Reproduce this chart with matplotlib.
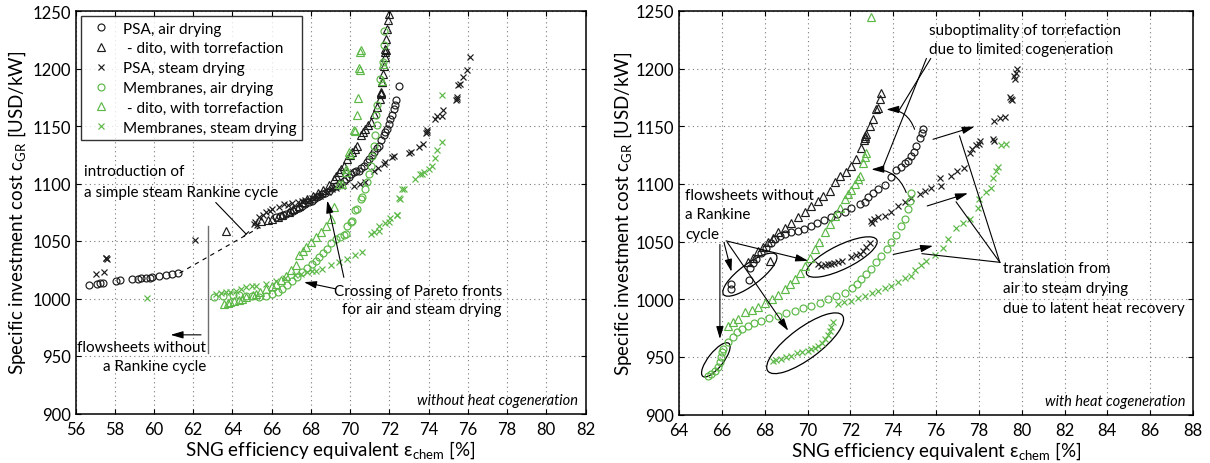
import matplotlib
matplotlib.use("Agg")
import matplotlib.pyplot as plt
from matplotlib.patches import Ellipse
from matplotlib import transforms

plt.rcParams['font.family'] = ['Lato', 'DejaVu Sans']
plt.rcParams['mathtext.fontset'] = 'custom'
plt.rcParams['mathtext.rm'] = 'Lato'
plt.rcParams['mathtext.it'] = 'Lato:italic'

BLACK = '#1c1c1c'
GREEN = '#5cb847'

# ---------------- left panel: without heat cogeneration ----------------
L_psa_air_x = [56.70, 57.08, 57.24, 57.38, 58.06, 58.26, 58.90, 59.19, 59.36, 59.58, 59.78, 59.92,
               60.25, 60.59, 60.93, 61.22,
               66.21, 66.45, 66.60, 66.72, 66.95, 67.10, 67.23, 67.40, 67.55, 67.70, 67.90, 68.05,
               68.15, 68.30, 68.41, 68.55, 68.70, 68.92, 69.10, 69.26, 69.50, 69.68, 69.80, 69.93,
               70.02, 70.19, 70.30, 70.44, 70.55, 70.70, 70.85, 70.95, 71.10, 71.20, 71.35, 71.46,
               71.60, 71.71, 71.80, 71.88, 71.97, 72.05, 72.12, 72.22, 72.28, 72.34, 72.51]
L_psa_air_y = [1011.7, 1012.9, 1013.2, 1013.7, 1015.2, 1015.8, 1016.6, 1017.2, 1017.5, 1017.8, 1018.1, 1018.7,
               1019.6, 1020.2, 1021.1, 1021.9,
               1070.7, 1071.8, 1072.5, 1073.6, 1075.0, 1076.5, 1078.0, 1079.0, 1080.5, 1082.0, 1083.8, 1085.0,
               1086.5, 1088.0, 1089.5, 1090.5, 1091.5, 1093.9, 1096.0, 1098.2, 1100.5, 1102.6, 1104.0, 1106.0,
               1108.4, 1110.0, 1110.5, 1111.3, 1113.5, 1115.6, 1118.5, 1121.5, 1124.5, 1127.3, 1130.5, 1133.0,
               1137.5, 1141.8, 1144.5, 1147.6, 1152.0, 1156.0, 1160.0, 1165.0, 1168.5, 1172.2, 1184.4]

L_psa_tor_x = [63.68, 65.45, 65.80, 66.04, 66.30, 66.55, 66.90, 67.10, 67.40, 67.60, 67.82, 68.10,
               68.35, 68.60, 68.90, 69.17, 69.30, 69.43, 69.55, 69.68, 69.85, 70.00, 70.10, 70.25,
               70.36, 70.53, 70.65, 70.78, 70.90, 71.04, 71.20, 71.37, 71.54, 71.59, 71.58, 71.60,
               71.62, 71.64, 71.66, 71.71, 71.76, 71.78, 71.80, 71.82, 71.83, 71.88, 71.93, 71.96]
L_psa_tor_y = [1058.7, 1067.8, 1068.5, 1069.3, 1070.5, 1072.2, 1075.0, 1077.5, 1080.8, 1083.5, 1086.7, 1089.0,
               1091.5, 1094.0, 1098.5, 1104.0, 1106.5, 1110.0, 1113.0, 1115.6, 1121.5, 1124.5, 1127.3, 1130.0,
               1133.0, 1141.8, 1144.5, 1147.6, 1150.5, 1153.4, 1160.7, 1166.5, 1173.7, 1178.0, 1179.0, 1180.0,
               1188.2, 1188.0, 1195.4, 1202.6, 1210.0, 1214.0, 1217.2, 1216.0, 1226.0, 1234.6, 1241.8, 1247.6]

L_psa_steam_x = [57.04, 57.45, 57.58, 57.62, 57.55, 62.07,
                 65.11, 65.15, 65.25, 65.37, 65.55, 65.71, 65.90, 66.04, 66.35, 66.64, 66.85, 67.06,
                 67.35, 67.55, 67.70, 67.90, 68.07, 68.30, 68.45, 68.58, 68.85, 69.09, 69.30, 69.59,
                 70.19, 70.50, 70.78, 71.20, 71.40, 71.71, 71.80, 72.13, 72.22, 72.98, 73.10, 73.49,
                 73.74, 73.91, 73.93, 73.88, 74.34, 74.42, 74.67, 74.76, 75.43, 75.45, 75.40, 75.52,
                 75.60, 75.77, 75.94, 76.11]
L_psa_steam_y = [1021.5, 1023.2, 1034.8, 1034.0, 1035.2, 1050.5,
                 1064.5, 1066.4, 1063.5, 1070.7, 1073.0, 1075.0, 1076.0, 1077.9, 1079.5, 1082.3, 1081.0, 1083.2,
                 1084.0, 1084.5, 1085.5, 1086.0, 1087.1, 1089.0, 1089.5, 1091.0, 1093.0, 1095.3, 1096.0, 1098.2,
                 1098.2, 1099.5, 1101.2, 1111.3, 1113.5, 1117.1, 1119.1, 1122.9, 1123.8, 1126.7, 1127.5, 1131.6,
                 1134.5, 1144.7, 1146.1, 1143.5, 1156.3, 1159.1, 1159.1, 1163.5, 1173.7, 1175.0, 1172.5, 1185.9,
                 1186.7, 1192.6, 1198.3, 1210.0]

L_mem_air_x = [63.08, 63.50, 64.01, 64.35, 64.69, 65.00, 65.37, 65.70, 66.04, 66.30, 66.55, 66.80,
               67.06, 67.30, 67.56, 67.80, 68.07, 68.25, 68.41, 68.60, 68.83, 69.05, 69.26, 69.50,
               69.68, 69.77, 69.85, 70.02, 70.10, 70.27, 70.36, 70.53, 70.61, 70.75, 70.86, 70.95,
               71.04, 71.12, 71.20, 71.29, 71.37, 71.32, 71.37, 71.54, 71.66, 71.71, 71.71]
L_mem_air_y = [1001.1, 1002.0, 1003.1, 1003.0, 1002.5, 1002.0, 1001.1, 1002.5, 1004.0, 1006.0, 1008.4, 1012.0,
               1015.6, 1019.0, 1023.0, 1026.5, 1030.1, 1033.0, 1036.0, 1040.0, 1043.2, 1048.0, 1052.0, 1053.5,
               1054.8, 1056.0, 1063.4, 1066.5, 1067.8, 1076.6, 1078.0, 1086.7, 1088.2, 1095.0, 1101.2, 1108.0,
               1115.6, 1124.3, 1133.0, 1141.8, 1150.5, 1159.2, 1167.9, 1191.1, 1205.6, 1220.1, 1232.3]

L_mem_tor_x = [63.59, 63.75, 63.90, 64.10, 64.35, 64.50, 64.70, 65.03, 65.20, 65.40, 65.71, 66.00,
               66.21, 66.50, 66.72, 67.00, 67.23, 67.40, 67.60, 67.74, 68.00, 68.24, 68.50, 68.75,
               69.00, 69.20, 69.43, 69.59, 69.77, 69.77, 69.94, 69.97, 70.19, 70.24, 70.36, 70.41,
               70.48, 70.46, 70.53, 70.50, 71.62, 71.66]
L_mem_tor_y = [995.3, 996.0, 997.0, 998.0, 999.0, 1000.0, 1001.0, 1003.0, 1004.0, 1006.0, 1008.4, 1011.0,
               1012.8, 1016.5, 1020.0, 1024.5, 1028.7, 1037.4, 1041.0, 1044.7, 1049.0, 1053.3, 1058.0, 1063.4,
               1069.3, 1080.0, 1099.8, 1099.8, 1110.0, 1112.8, 1127.3, 1126.0, 1146.1, 1146.0, 1159.7, 1174.3,
               1198.9, 1200.5, 1215.7, 1214.5, 1189.0, 1204.0]

L_mem_steam_x = [59.65, 63.17, 63.40, 63.68, 63.90, 64.18, 64.45, 64.69, 65.00, 65.20, 65.70, 66.20,
                 66.70, 67.20, 67.50, 67.82, 68.05, 68.24, 68.58, 69.00, 69.43, 69.85, 70.27, 70.61,
                 71.04, 71.20, 71.46, 71.46, 71.80, 71.97, 72.05, 72.39, 72.39, 72.47, 72.56, 72.64,
                 72.73, 73.32, 73.57, 73.66, 73.75, 74.00, 74.16, 74.34, 74.42, 74.67, 74.67]
L_mem_steam_y = [1000.3, 1004.0, 1005.0, 1005.5, 1006.0, 1006.9, 1008.0, 1009.8, 1010.5, 1011.3, 1013.0, 1015.0,
                 1018.0, 1020.5, 1021.5, 1023.0, 1023.5, 1024.3, 1025.7, 1028.7, 1031.6, 1034.5, 1037.4, 1040.3,
                 1056.2, 1057.5, 1059.0, 1063.4, 1065.7, 1066.3, 1069.8, 1072.2, 1072.8, 1087.3, 1086.7, 1095.4,
                 1095.4, 1104.0, 1108.4, 1108.4, 1110.0, 1112.8, 1115.1, 1122.0, 1128.7, 1136.0, 1176.6]

# ---------------- right panel: with heat cogeneration ----------------
R_psa_air_x = [66.42, 66.42, 67.26,
               67.31, 67.45, 67.60, 67.85, 68.05, 68.30, 68.48, 68.70, 68.94, 69.25, 69.55, 69.85,
               70.15, 70.45, 70.75, 71.11, 71.40, 71.74, 72.05, 72.44, 72.67, 72.83, 73.05, 73.29,
               73.60, 73.91, 74.14, 74.35, 74.54, 74.70, 74.84, 74.95, 75.08, 75.24, 75.33, 75.39]
R_psa_air_y = [1013.0, 1008.8, 1016.8,
               1027.5, 1031.0, 1035.0, 1040.0, 1044.5, 1048.5, 1052.1, 1054.5, 1056.4, 1057.9, 1059.5, 1061.0,
               1063.5, 1066.0, 1068.5, 1071.5, 1074.0, 1075.5, 1079.0, 1083.0, 1084.5, 1089.0, 1092.0, 1096.0,
               1099.0, 1106.0, 1112.0, 1115.0, 1118.0, 1120.0, 1124.0, 1128.0, 1133.0, 1139.8, 1144.0, 1147.4]

R_psa_tor_x = [68.24, 67.23, 67.45, 67.70, 67.90, 68.16, 68.40, 68.63, 68.95, 69.25, 69.56, 69.87,
               70.18, 70.49, 70.73, 71.04, 71.27, 71.50, 71.82, 72.05, 72.28, 72.51, 72.62, 72.67,
               72.70, 72.75, 72.90, 73.06, 73.21, 73.30, 73.37, 73.45]
R_psa_tor_y = [1033.3, 1031.9, 1036.0, 1041.9, 1045.5, 1049.2, 1053.5, 1057.9, 1062.0, 1066.5, 1071.0, 1075.5,
               1080.9, 1085.0, 1089.6, 1094.0, 1102.0, 1107.0, 1110.0, 1115.6, 1121.4, 1131.5, 1138.5, 1140.2,
               1141.5, 1143.0, 1150.3, 1156.0, 1164.7, 1166.0, 1173.4, 1179.2]

R_psa_steam_x = [70.49, 70.65, 70.80, 70.95, 71.11, 71.25, 71.43, 71.60, 72.05, 72.25, 72.44, 72.60,
                 72.75, 72.90,
                 72.98, 73.03, 73.12, 73.30, 73.60, 73.90, 74.22, 74.53, 74.85, 75.23, 75.50, 75.76,
                 76.24, 76.20, 76.71, 77.00, 77.33, 77.57, 77.70, 77.87, 78.00, 78.05, 78.65, 78.70,
                 78.73, 79.00, 79.20, 79.50, 79.45, 79.55, 79.66, 79.74, 79.70, 79.78]
R_psa_steam_y = [1030.4, 1029.0, 1029.5, 1030.5, 1030.4, 1031.0, 1031.9, 1033.0, 1036.2, 1038.0, 1039.0, 1042.0,
                 1044.9, 1048.5,
                 1068.0, 1066.5, 1069.2, 1071.0, 1072.3, 1076.0, 1081.0, 1084.0, 1087.5, 1090.9, 1093.5, 1096.7,
                 1098.3, 1105.4, 1107.0, 1111.0, 1114.2, 1127.2, 1130.0, 1133.5, 1135.0, 1137.0, 1138.7, 1137.5,
                 1154.6, 1157.0, 1158.4, 1174.0, 1175.5, 1173.0, 1193.6, 1196.5, 1191.0, 1199.4]

R_mem_air_x = [65.37, 65.50, 65.68, 65.80, 65.91, 65.95, 65.99, 66.05,
               66.30, 66.50, 66.69, 66.95, 67.23, 67.50, 67.85, 68.20, 68.63, 69.00, 69.41, 69.80,
               70.18, 70.60, 70.96, 71.35, 71.74, 72.10, 72.30, 72.51, 72.75, 72.98, 73.20, 73.45,
               73.70, 73.91, 74.15, 74.38, 74.55, 74.69, 74.78, 74.84]
R_mem_air_y = [933.6, 935.0, 937.9, 941.0, 945.2, 950.0, 953.9, 957.0,
               962.6, 967.0, 971.2, 974.5, 977.0, 979.0, 981.3, 983.5, 985.6, 988.0, 990.0, 992.0,
               994.3, 997.0, 1000.0, 1003.0, 1005.8, 1010.0, 1013.5, 1017.3, 1021.5, 1026.0, 1032.0, 1037.6,
               1043.5, 1049.2, 1056.0, 1063.6, 1070.0, 1078.0, 1085.0, 1092.5]

R_mem_tor_x = [66.30, 66.50, 66.76, 67.08, 67.40, 67.70, 68.00, 68.32, 68.60, 68.94, 69.20, 69.41,
               69.65, 69.87, 70.10, 70.34, 70.55, 70.80, 71.05, 71.27, 71.50, 71.74, 71.89, 72.05,
               72.20, 72.36, 72.44, 72.59, 72.68, 72.75, 72.98]
R_mem_tor_y = [977.1, 980.0, 982.8, 988.6, 991.0, 993.1, 996.5, 1000.1, 1004.0, 1008.8, 1013.0, 1017.5,
               1023.0, 1029.0, 1036.0, 1043.5, 1050.0, 1058.0, 1065.0, 1072.3, 1079.0, 1086.7, 1091.0, 1095.0,
               1100.0, 1104.0, 1107.0, 1118.5, 1123.0, 1127.2, 1245.0]

R_mem_steam_x = [68.40, 68.55, 68.78, 69.00, 69.25, 69.50, 69.72, 70.00, 70.18, 70.35, 70.49, 70.66,
                 70.80, 70.95, 71.04, 71.12, 71.19,
                 71.43, 71.71, 72.05, 72.35, 72.67, 73.00, 73.29, 73.60, 73.91, 74.22, 74.54, 74.84,
                 75.00, 75.30, 75.54, 75.93, 76.32, 76.55, 76.94, 77.25, 77.57, 77.95, 78.03, 78.34,
                 78.57, 78.65, 78.81, 78.90, 79.04, 79.27]
R_mem_steam_y = [946.6, 947.0, 948.1, 949.5, 951.0, 953.0, 954.5, 955.5, 956.7, 958.0, 959.6, 962.0,
                 965.4, 969.0, 972.6, 976.0, 979.9,
                 995.6, 997.5, 998.6, 1001.0, 1002.9, 1005.0, 1007.2, 1009.5, 1011.6, 1015.0, 1018.5, 1020.0,
                 1025.0, 1030.0, 1033.5, 1038.0, 1044.0, 1052.0, 1062.0, 1066.0, 1069.4, 1079.5, 1087.0, 1093.0,
                 1096.5, 1105.0, 1110.8, 1115.0, 1133.5, 1134.4]

series_labels = ['PSA, air drying', ' - dito, with torrefaction', 'PSA, steam drying',
                 'Membranes, air drying', ' - dito, with torrefaction', 'Membranes, steam drying']

fig = plt.figure(figsize=(12.10, 4.64), dpi=100)
W, H = 1210.0, 464.0
axL = fig.add_axes([75.5 / W, (H - 414.5) / H, 510.0 / W, 402.5 / H])
axR = fig.add_axes([679.0 / W, (H - 415.5) / H, 514.0 / W, 403.5 / H])

AX_FS = 13.5
TICK_FS = 12
ANN_FS = 11


def style_axes(ax, xlo, xhi):
    ax.set_xlim(xlo, xhi)
    ax.set_ylim(900, 1250)
    ax.set_xticks(range(xlo, xhi + 1, 2))
    ax.set_yticks(range(900, 1251, 50))
    ax.grid(True, linestyle=(0, (1, 3)), color='#7a7a7a', lw=0.8)
    ax.set_axisbelow(True)
    ax.tick_params(direction='in', top=True, right=True, length=3.5, width=0.8,
                   labelsize=TICK_FS)
    ax.tick_params(axis='x', pad=5.5)
    ax.tick_params(axis='y', pad=3.5)
    for s in ax.spines.values():
        s.set_linewidth(1.1)
    ax.set_xlabel('SNG efficiency equivalent ε$_{\\mathrm{chem}}$ [%]', fontsize=AX_FS)
    ax.set_ylabel('Specific investment cost c$_{\\mathrm{GR}}$ [USD/kW]', fontsize=AX_FS)
    ax.xaxis.set_label_coords(0.5, -0.062)


def scatter_set(ax, data, with_labels=False):
    styles = [('o', BLACK, 5.0), ('^', BLACK, 5.6), ('x', BLACK, 5.0),
              ('o', GREEN, 5.0), ('^', GREEN, 5.6), ('x', GREEN, 5.0)]
    for (xs, ys), (m, c, ms), lab in zip(data, styles, series_labels):
        ax.plot(xs, ys, linestyle='none', marker=m, mfc='none', mec=c, ms=ms, mew=0.85,
                label=lab if with_labels else None)


def arrow(ax, start, end, rad=0.0):
    ax.annotate('', xy=end, xytext=start,
                arrowprops=dict(arrowstyle='-|>,head_length=0.75,head_width=0.22', lw=0.8,
                                color='black', shrinkA=0, shrinkB=0, mutation_scale=10,
                                connectionstyle='arc3,rad=%g' % rad))


def line(ax, xs, ys, **kw):
    kw.setdefault('color', 'black')
    kw.setdefault('lw', 0.8)
    ax.plot(xs, ys, **kw)


def ellipse(ax, x, y, w_px, h_px, angle):
    tr = fig.dpi_scale_trans + transforms.ScaledTranslation(x, y, ax.transData)
    ax.add_patch(Ellipse((0, 0), w_px / fig.dpi, h_px / fig.dpi, angle=angle,
                         transform=tr, fill=False, ec='black', lw=0.9))


# ---- left panel ----
style_axes(axL, 56, 82)
axL.yaxis.set_label_coords(-0.093, 0.5)
scatter_set(axL, [(L_psa_air_x, L_psa_air_y), (L_psa_tor_x, L_psa_tor_y),
                  (L_psa_steam_x, L_psa_steam_y), (L_mem_air_x, L_mem_air_y),
                  (L_mem_tor_x, L_mem_tor_y), (L_mem_steam_x, L_mem_steam_y)], with_labels=True)

leg = axL.legend(loc='upper left', bbox_to_anchor=(0.0102, 0.987), borderaxespad=0,
                 fontsize=11, frameon=True, fancybox=False, edgecolor='black',
                 handlelength=2.0, handletextpad=0.4, labelspacing=0.38, borderpad=0.35,
                 numpoints=1)
leg.get_frame().set_linewidth(1.0)

line(axL, [61.3, 65.4], [1022.0, 1062.0], ls=(0, (4, 4)))
axL.annotate('', xy=(64.7, 1056.0), xytext=(63.15, 1083.5),
             arrowprops=dict(arrowstyle='|-|,widthA=0,widthB=0.25', lw=0.8, color='black',
                             shrinkA=0, shrinkB=0, mutation_scale=10))
axL.text(56.45, 1111.0, 'introduction of', fontsize=ANN_FS, ha='left', va='center')
axL.text(56.45, 1093.0, 'a simple steam Rankine cycle', fontsize=ANN_FS, ha='left', va='center')

line(axL, [62.76, 62.76], [953.0, 1063.0], color='#6e6e6e', lw=1.0)
arrow(axL, (62.4, 968.4), (60.85, 968.4))
axL.text(62.65, 957.6, 'flowsheets without', fontsize=ANN_FS, ha='right', va='center')
axL.text(62.65, 941.0, 'a Rankine cycle', fontsize=ANN_FS, ha='right', va='center')

arrow(axL, (69.68, 1018.4), (68.83, 1085.2))
arrow(axL, (69.26, 1008.4), (67.65, 1014.2))
axL.text(77.74, 1006.8, 'Crossing of Pareto fronts', fontsize=ANN_FS, ha='right', va='center')
axL.text(77.74, 990.9, 'for air and steam drying', fontsize=ANN_FS, ha='right', va='center')

axL.text(81.62, 911.6, 'without heat cogeneration', fontsize=10.5, style='italic',
         ha='right', va='center')

# ---- right panel ----
style_axes(axR, 64, 88)
axR.yaxis.set_label_coords(-0.087, 0.5)
scatter_set(axR, [(R_psa_air_x, R_psa_air_y), (R_psa_tor_x, R_psa_tor_y),
                  (R_psa_steam_x, R_psa_steam_y), (R_mem_air_x, R_mem_air_y),
                  (R_mem_tor_x, R_mem_tor_y), (R_mem_steam_x, R_mem_steam_y)])

axR.text(75.67, 1233.5, 'suboptimality of torrefaction', fontsize=ANN_FS, ha='left', va='center')
axR.text(75.67, 1216.7, 'due to limited cogeneration', fontsize=ANN_FS, ha='left', va='center')
line(axR, [75.75, 74.26], [1208.7, 1163.3])
line(axR, [75.55, 73.52], [1208.7, 1114.2])
arrow(axR, (75.0, 1147.4), (73.68, 1164.6), rad=0.35)
arrow(axR, (74.61, 1092.5), (72.98, 1112.6), rad=0.35)

arrow(axR, (75.86, 1138.7), (77.80, 1149.7))
arrow(axR, (75.59, 1080.9), (77.49, 1091.9))
arrow(axR, (74.00, 1038.8), (75.86, 1046.3))
line(axR, [78.98, 77.10], [1032.0, 1141.6])
line(axR, [78.98, 76.94], [1032.0, 1084.4])
line(axR, [78.98, 75.35], [1032.0, 1039.5])
axR.text(79.14, 1026.7, 'translation from', fontsize=ANN_FS, ha='left', va='center')
axR.text(79.14, 1009.9, 'air to steam drying', fontsize=ANN_FS, ha='left', va='center')
axR.text(79.14, 992.5, 'due to latent heat recovery', fontsize=ANN_FS, ha='left', va='center')

axR.text(64.28, 1090.2, 'flowsheets without', fontsize=ANN_FS, ha='left', va='center')
axR.text(64.28, 1073.7, 'a Rankine', fontsize=ANN_FS, ha='left', va='center')
axR.text(64.28, 1056.4, 'cycle', fontsize=ANN_FS, ha='left', va='center')
arrow(axR, (65.91, 1047.5), (65.91, 965.5))
arrow(axR, (66.10, 1049.2), (66.45, 1023.8))
arrow(axR, (66.20, 1050.6), (70.03, 1033.3))
arrow(axR, (66.25, 1049.5), (69.10, 972.6))

ellipse(axR, 67.31, 1021.3, 66, 21, 37)
ellipse(axR, 71.60, 1036.6, 78, 24, 26)
ellipse(axR, 69.89, 961.8, 93, 31, 36.6)
ellipse(axR, 65.72, 947.4, 42, 15, 51.7)

axR.text(87.65, 911.6, 'with heat cogeneration', fontsize=10.5, style='italic',
         ha='right', va='center')

fig.savefig('out.png', dpi=100)
